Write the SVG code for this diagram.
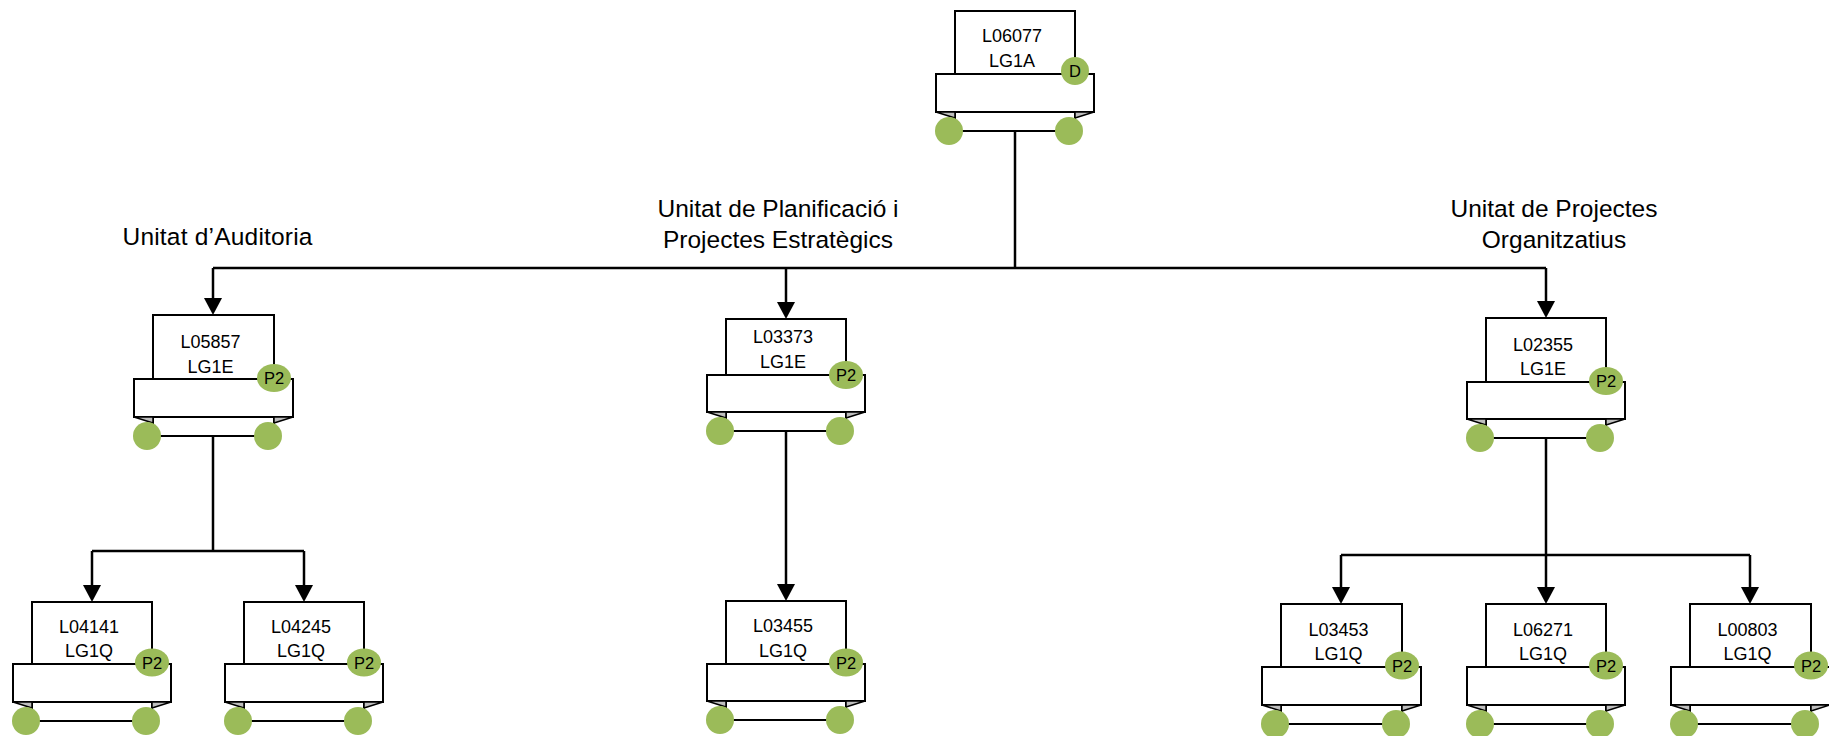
<svg xmlns="http://www.w3.org/2000/svg" width="1829" height="736" viewBox="0 0 1829 736">
<defs>
<style>
.bg{fill:#fff;}
.back,.band{fill:#fff;stroke:#000;stroke-width:2;}
.fold{fill:#bfbfbf;stroke:#000;stroke-width:1.5;stroke-linejoin:round;}
.dot{fill:#9bbb59;}
.t{font-family:"Liberation Sans",Arial,sans-serif;font-size:18px;fill:#000;text-anchor:middle;}
.b{font-family:"Liberation Sans",Arial,sans-serif;font-size:16.5px;fill:#000;text-anchor:middle;}
.lab{font-family:"Liberation Sans",Arial,sans-serif;font-size:24.5px;fill:#000;text-anchor:middle;}
.c{fill:none;stroke:#000;stroke-width:2.5;}
</style>
<marker id="ah" viewBox="0 0 17 18" refX="9" refY="9" markerWidth="17" markerHeight="18" markerUnits="userSpaceOnUse" orient="auto">
<path d="M0,0 L17,9 L0,18 Z" fill="#000"/>
</marker>
</defs>
<rect class="bg" x="0" y="0" width="1829" height="736"/>

<g id="labels">
<text class="lab" x="217.5" y="245" textLength="190" lengthAdjust="spacing">Unitat d’Auditoria</text>
<text class="lab" x="778" y="216.7">Unitat de Planificació i</text>
<text class="lab" x="778" y="248.3">Projectes Estratègics</text>
<text class="lab" x="1554" y="216.7">Unitat de Projectes</text>
<text class="lab" x="1554" y="248.3">Organitzatius</text>
</g>

<g id="connectors">
<path class="c" d="M1015,131 V268"/>
<path class="c" d="M213,268 H1546"/>
<path class="c" d="M213,268 V307" marker-end="url(#ah)"/>
<path class="c" d="M786,268 V311" marker-end="url(#ah)"/>
<path class="c" d="M1546,268 V310" marker-end="url(#ah)"/>
<path class="c" d="M213,436 V551"/>
<path class="c" d="M92,551 H304"/>
<path class="c" d="M92,551 V594" marker-end="url(#ah)"/>
<path class="c" d="M304,551 V594" marker-end="url(#ah)"/>
<path class="c" d="M786,431 V593" marker-end="url(#ah)"/>
<path class="c" d="M1546,438 V555"/>
<path class="c" d="M1341,555 H1750"/>
<path class="c" d="M1341,555 V596" marker-end="url(#ah)"/>
<path class="c" d="M1546,555 V596" marker-end="url(#ah)"/>
<path class="c" d="M1750,555 V596" marker-end="url(#ah)"/>
</g>

<g id="n_L06077">
<rect class="back" x="955" y="11" width="120" height="120"/>
<rect class="band" x="936" y="74" width="158" height="38"/>
<path class="fold" d="M936,112 L955,112 L955,118 Z"/>
<path class="fold" d="M1094,112 L1075,112 L1075,118 Z"/>
<circle class="dot" cx="949" cy="131" r="14"/>
<circle class="dot" cx="1069" cy="131" r="14"/>
<circle class="dot" cx="1075" cy="71" r="14"/>
<text class="b" x="1075" y="77">D</text>
<text class="t" x="1012" y="42">L06077</text>
<text class="t" x="1012" y="67">LG1A</text>
</g>

<g id="n_L05857">
<rect class="back" x="153" y="315" width="121" height="121"/>
<rect class="band" x="134" y="379" width="159" height="38"/>
<path class="fold" d="M134,417 L153,417 L153,423 Z"/>
<path class="fold" d="M293,417 L274,417 L274,423 Z"/>
<circle class="dot" cx="147" cy="436" r="14"/>
<circle class="dot" cx="268" cy="436" r="14"/>
<ellipse class="dot" cx="274" cy="378" rx="17" ry="14"/>
<text class="b" x="274" y="384">P2</text>
<text class="t" x="210.5" y="347.5">L05857</text>
<text class="t" x="210.5" y="372.5">LG1E</text>
</g>

<g id="n_L03373">
<rect class="back" x="726" y="319" width="120" height="112"/>
<rect class="band" x="707" y="375" width="158" height="37"/>
<path class="fold" d="M707,412 L726,412 L726,418 Z"/>
<path class="fold" d="M865,412 L846,412 L846,418 Z"/>
<circle class="dot" cx="720" cy="431" r="14"/>
<circle class="dot" cx="840" cy="431" r="14"/>
<ellipse class="dot" cx="846" cy="375" rx="17" ry="14"/>
<text class="b" x="846" y="381">P2</text>
<text class="t" x="783" y="343">L03373</text>
<text class="t" x="783" y="367.5">LG1E</text>
</g>

<g id="n_L02355">
<rect class="back" x="1486" y="318" width="120" height="120"/>
<rect class="band" x="1467" y="382" width="158" height="37"/>
<path class="fold" d="M1467,419 L1486,419 L1486,425 Z"/>
<path class="fold" d="M1625,419 L1606,419 L1606,425 Z"/>
<circle class="dot" cx="1480" cy="438" r="14"/>
<circle class="dot" cx="1600" cy="438" r="14"/>
<ellipse class="dot" cx="1606" cy="381" rx="17" ry="14"/>
<text class="b" x="1606" y="387">P2</text>
<text class="t" x="1543" y="350.5">L02355</text>
<text class="t" x="1543" y="375">LG1E</text>
</g>

<g id="n_L04141">
<rect class="back" x="32" y="602" width="120" height="119"/>
<rect class="band" x="13" y="664" width="158" height="38"/>
<path class="fold" d="M13,702 L32,702 L32,708 Z"/>
<path class="fold" d="M171,702 L152,702 L152,708 Z"/>
<circle class="dot" cx="26" cy="721" r="14"/>
<circle class="dot" cx="146" cy="721" r="14"/>
<ellipse class="dot" cx="152" cy="662.5" rx="17" ry="14"/>
<text class="b" x="152" y="668.5">P2</text>
<text class="t" x="89" y="632.5">L04141</text>
<text class="t" x="89" y="656.5">LG1Q</text>
</g>

<g id="n_L04245">
<rect class="back" x="244" y="602" width="120" height="119"/>
<rect class="band" x="225" y="664" width="158" height="38"/>
<path class="fold" d="M225,702 L244,702 L244,708 Z"/>
<path class="fold" d="M383,702 L364,702 L364,708 Z"/>
<circle class="dot" cx="238" cy="721" r="14"/>
<circle class="dot" cx="358" cy="721" r="14"/>
<ellipse class="dot" cx="364" cy="662.5" rx="17" ry="14"/>
<text class="b" x="364" y="668.5">P2</text>
<text class="t" x="301" y="632.5">L04245</text>
<text class="t" x="301" y="656.5">LG1Q</text>
</g>

<g id="n_L03455">
<rect class="back" x="726" y="601" width="120" height="119"/>
<rect class="band" x="707" y="664" width="158" height="37"/>
<path class="fold" d="M707,701 L726,701 L726,707 Z"/>
<path class="fold" d="M865,701 L846,701 L846,707 Z"/>
<circle class="dot" cx="720" cy="720" r="14"/>
<circle class="dot" cx="840" cy="720" r="14"/>
<ellipse class="dot" cx="846" cy="662.5" rx="17" ry="14"/>
<text class="b" x="846" y="668.5">P2</text>
<text class="t" x="783" y="632">L03455</text>
<text class="t" x="783" y="656.5">LG1Q</text>
</g>

<g id="n_L03453">
<rect class="back" x="1281" y="604" width="121" height="120"/>
<rect class="band" x="1262" y="667" width="159" height="38"/>
<path class="fold" d="M1262,705 L1281,705 L1281,711 Z"/>
<path class="fold" d="M1421,705 L1402,705 L1402,711 Z"/>
<circle class="dot" cx="1275" cy="724" r="14"/>
<circle class="dot" cx="1396" cy="724" r="14"/>
<ellipse class="dot" cx="1402" cy="665.5" rx="17" ry="14"/>
<text class="b" x="1402" y="671.5">P2</text>
<text class="t" x="1338.5" y="635.5">L03453</text>
<text class="t" x="1338.5" y="660">LG1Q</text>
</g>

<g id="n_L06271">
<rect class="back" x="1486" y="604" width="120" height="120"/>
<rect class="band" x="1467" y="667" width="158" height="38"/>
<path class="fold" d="M1467,705 L1486,705 L1486,711 Z"/>
<path class="fold" d="M1625,705 L1606,705 L1606,711 Z"/>
<circle class="dot" cx="1480" cy="724" r="14"/>
<circle class="dot" cx="1600" cy="724" r="14"/>
<ellipse class="dot" cx="1606" cy="665.5" rx="17" ry="14"/>
<text class="b" x="1606" y="671.5">P2</text>
<text class="t" x="1543" y="635.5">L06271</text>
<text class="t" x="1543" y="660">LG1Q</text>
</g>

<g id="n_L00803">
<rect class="back" x="1690" y="604" width="121" height="120"/>
<rect class="band" x="1671" y="667" width="159" height="38"/>
<path class="fold" d="M1671,705 L1690,705 L1690,711 Z"/>
<path class="fold" d="M1830,705 L1811,705 L1811,711 Z"/>
<circle class="dot" cx="1684" cy="724" r="14"/>
<circle class="dot" cx="1805" cy="724" r="14"/>
<ellipse class="dot" cx="1811" cy="665.5" rx="17" ry="14"/>
<text class="b" x="1811" y="671.5">P2</text>
<text class="t" x="1747.5" y="635.5">L00803</text>
<text class="t" x="1747.5" y="660">LG1Q</text>
</g>
</svg>
